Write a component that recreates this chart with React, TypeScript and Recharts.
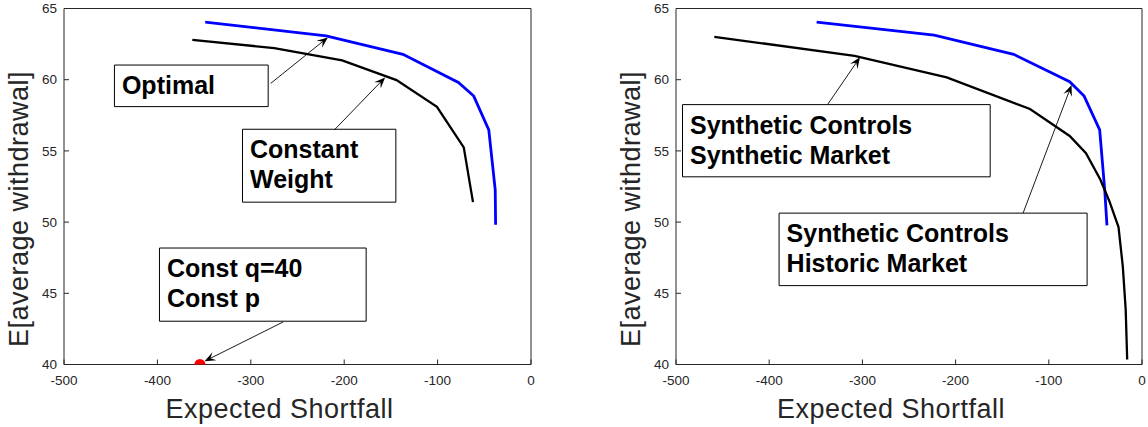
import React from 'react';
import { ComposedChart, Line, Scatter, XAxis, YAxis, ReferenceArea, ReferenceLine } from 'recharts';

// axis ticks
const xTicks = [-500, -400, -300, -200, -100, 0];
const yTicks = [40, 45, 50, 55, 60, 65];

// left panel
const optimalLeftX = [-348.8, -219.4, -137.1, -77.7, -61.3, -45.2, -38.3, -37.9];
const optimalLeftY = [64.04, 63.08, 61.78, 59.81, 58.85, 56.47, 52.26, 49.81];
const constWeightX = [-362.6, -274.9, -202.2, -144.0, -100.7, -72.0, -62.1];
const constWeightY = [62.8, 62.22, 61.35, 59.97, 58.1, 55.25, 51.4];
const constQX = [-354.5];
const constQY = [40];

// right panel
const historicX = [-349.1, -223.0, -137.7, -77.6, -62.1, -45.4, -40.0, -37.6];
const historicY = [64.04, 63.13, 61.78, 59.86, 58.85, 56.47, 52.27, 49.77];
const synthMarketX = [-458.9, -308.4, -209.5, -120.2, -77.6, -60.1, -44.6, -34.9, -25.2, -20.6, -17.5, -15.9];
const synthMarketY = [63.01, 61.68, 60.16, 57.94, 56.05, 54.84, 52.97, 51.45, 49.65, 46.89, 43.86, 40.35];

const toPoints = (xs: number[], ys: number[]) => xs.map((x, i) => ({ x, y: ys[i] }));

// annotations (data units)
const leftBoxes = [
  { x1: -446, x2: -281.4, y1: 58.11, y2: 61.03, lines: ['Optimal'] },
  { x1: -308.9, x2: -144.7, y1: 51.4, y2: 56.52, lines: ['Constant', 'Weight'] },
  { x1: -397.8, x2: -176.5, y1: 43.04, y2: 48.18, lines: ['Const q=40', 'Const p'] },
];
const leftArrows = [
  { from: { x: -278.7, y: 59.74 }, to: { x: -217.5, y: 62.97 } },
  { from: { x: -210.6, y: 56.47 }, to: { x: -156.2, y: 60.16 } },
  { from: { x: -265.3, y: 42.99 }, to: { x: -349.5, y: 40.23 } },
];
const rightBoxes = [
  { x1: -493, x2: -162.9, y1: 53.18, y2: 58.25, lines: ['Synthetic Controls', 'Synthetic Market'] },
  { x1: -389.4, x2: -58.9, y1: 45.54, y2: 50.63, lines: ['Synthetic Controls', 'Historic Market'] },
];
const rightArrows = [
  { from: { x: -337, y: 58.29 }, to: { x: -302.6, y: 61.57 } },
  { from: { x: -127.6, y: 50.63 }, to: { x: -75.6, y: 59.63 } },
];

const axisColor = '#262626';

const Arrow = (p: any) => {
  const { x1, y1, x2, y2 } = p;
  const dx = x2 - x1;
  const dy = y2 - y1;
  const len = Math.hypot(dx, dy) || 1;
  const ux = dx / len;
  const uy = dy / len;
  const L = 11;
  const W = 4.5;
  const bx = x2 - ux * L;
  const by = y2 - uy * L;
  const nx = x2 - ux * L * 0.6;
  const ny = y2 - uy * L * 0.6;
  const px = -uy;
  const py = ux;
  const d = `M${x2},${y2} L${bx + px * W},${by + py * W} L${nx},${ny} L${bx - px * W},${by - py * W} Z`;
  return (
    <g>
      <line x1={x1} y1={y1} x2={nx} y2={ny} stroke="#000" strokeWidth={0.9} />
      <path d={d} fill="#000" />
    </g>
  );
};

const BoxText = (p: any) => {
  const { viewBox, lines } = p;
  return (
    <text fontSize={25} fontWeight="bold" fill="#000">
      {lines.map((l: string, i: number) => (
        <tspan key={i} x={viewBox.x + 7.5} y={viewBox.y + 29 + i * 30}>
          {l}
        </tspan>
      ))}
    </text>
  );
};

const YLabelText = (p: any) => {
  const { viewBox } = p;
  const bx = viewBox.x + viewBox.width - 36.5;
  const cy = viewBox.y + viewBox.height / 2 + 22.5;
  return (
    <text x={bx} y={cy} transform={`rotate(-90, ${bx}, ${cy})`} textAnchor="middle" fontSize={27} letterSpacing={0.5} fill={axisColor}>
      E[average withdrawal]
    </text>
  );
};

const XLabelText = (p: any) => {
  const { viewBox } = p;
  return (
    <text x={viewBox.x + viewBox.width / 2 - 18} y={viewBox.y + 53.5} textAnchor="middle" fontSize={27} letterSpacing={0.5} fill={axisColor}>
      Expected Shortfall
    </text>
  );
};

interface PanelProps {
  leftWidth: number;
  rightMargin: number;
  black: { x: number; y: number }[];
  blue: { x: number; y: number }[];
  dot?: { x: number; y: number }[];
  boxes: typeof leftBoxes;
  arrows: typeof leftArrows;
}

const Panel: React.FC<PanelProps> = ({ leftWidth, rightMargin, black, blue, dot, boxes, arrows }) => (
  <ComposedChart width={574} height={427} margin={{ top: 7.5, right: rightMargin, bottom: 0, left: 0 }}>
    <XAxis
      dataKey="x"
      type="number"
      domain={[-500, 0]}
      allowDataOverflow
      ticks={xTicks}
      height={62.5}
      tickSize={-5}
      tickMargin={16}
      tick={{ fill: axisColor, fontSize: 13.5 }}
      tickLine={{ stroke: axisColor }}
      axisLine={{ stroke: axisColor }}
      label={<XLabelText />}
    />
    <XAxis
      xAxisId="top"
      orientation="top"
      dataKey="x"
      type="number"
      domain={[-500, 0]}
      allowDataOverflow
      ticks={xTicks}
      height={1}
      tickSize={-5}
      tick={false}
      tickLine={{ stroke: axisColor }}
      axisLine={{ stroke: axisColor }}
    />
    <YAxis
      type="number"
      domain={[40, 65]}
      allowDataOverflow
      ticks={yTicks}
      width={leftWidth}
      tickSize={-5}
      tickMargin={12}
      tick={{ fill: axisColor, fontSize: 13.5 }}
      tickLine={{ stroke: axisColor }}
      axisLine={{ stroke: axisColor }}
      label={<YLabelText />}
    />
    <YAxis
      yAxisId="right"
      orientation="right"
      type="number"
      domain={[40, 65]}
      allowDataOverflow
      ticks={yTicks}
      width={1}
      tickSize={-5}
      tick={false}
      tickLine={{ stroke: axisColor }}
      axisLine={{ stroke: axisColor }}
    />
    <Line data={blue} dataKey="y" stroke="#0000ff" strokeWidth={2.8} dot={false} activeDot={false} isAnimationActive={false} />
    <Line data={black} dataKey="y" stroke="#000" strokeWidth={2.3} dot={false} activeDot={false} isAnimationActive={false} />
    {dot && (
      <Scatter
        data={dot}
        dataKey="y"
        isAnimationActive={false}
        shape={(s: any) => <circle cx={s.cx} cy={s.cy} r={5.5} fill="#ff0000" />}
      />
    )}
    {boxes.map((b, i) => (
      <ReferenceArea
        key={`b${i}`}
        x1={b.x1}
        x2={b.x2}
        y1={b.y1}
        y2={b.y2}
        fill="#fff"
        fillOpacity={1}
        stroke="#000"
        strokeWidth={1}
        label={<BoxText lines={b.lines} />}
      />
    ))}
    {arrows.map((a, i) => (
      <ReferenceLine key={`a${i}`} segment={[a.from, a.to]} ifOverflow="visible" shape={(p: any) => <Arrow {...p} />} />
    ))}
  </ComposedChart>
);

export default function App() {
  return (
    <div
      style={{
        position: 'absolute',
        left: 0,
        top: 0,
        width: 1148,
        height: 427,
        display: 'flex',
        background: '#fff',
        fontFamily: "'Liberation Sans', Arial, sans-serif",
      }}
    >
      <Panel
        leftWidth={64}
        rightMargin={42}
        blue={toPoints(optimalLeftX, optimalLeftY)}
        black={toPoints(constWeightX, constWeightY)}
        dot={toPoints(constQX, constQY)}
        boxes={leftBoxes}
        arrows={leftArrows}
      />
      <Panel
        leftWidth={102}
        rightMargin={5}
        blue={toPoints(historicX, historicY)}
        black={toPoints(synthMarketX, synthMarketY)}
        boxes={rightBoxes}
        arrows={rightArrows}
      />
    </div>
  );
}
